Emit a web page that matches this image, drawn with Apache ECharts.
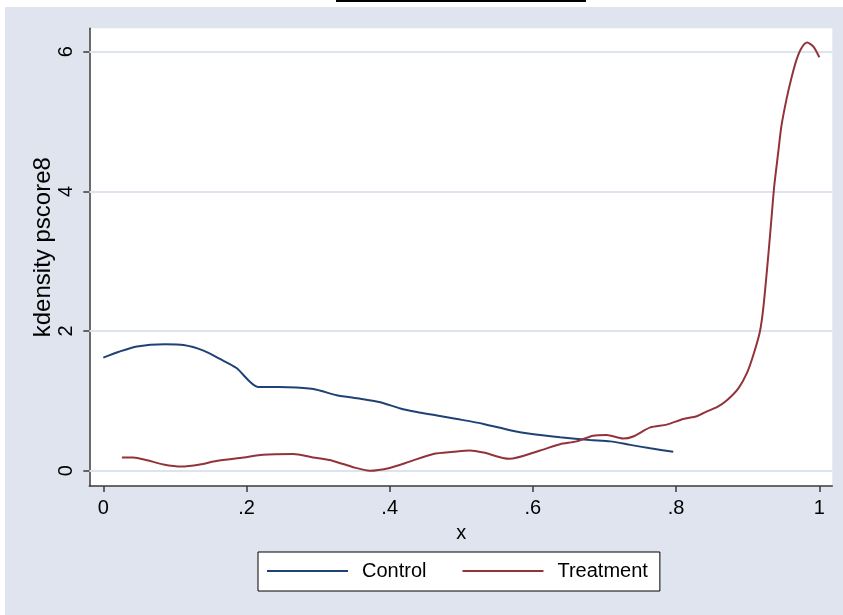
<!DOCTYPE html>
<html>
<head>
<meta charset="utf-8">
<script src="https://cdn.jsdelivr.net/npm/echarts@6/dist/echarts.min.js"></script>
<style>
  html, body { margin: 0; padding: 0; background: #ffffff; }
  #chart { width: 843px; height: 615px; }
</style>
</head>
<body>
<div id="chart"></div>
<script>
// ---- data ----
const controlX = [0, 0.021, 0.047, 0.086, 0.112, 0.140, 0.163, 0.186, 0.216, 0.245, 0.270, 0.298, 0.326, 0.359, 0.387, 0.415, 0.438, 0.466, 0.494, 0.531, 0.568, 0.596, 0.638, 0.680, 0.708, 0.736, 0.764, 0.796];
const controlY = [1.62, 1.70, 1.78, 1.81, 1.80, 1.72, 1.60, 1.47, 1.20, 1.20, 1.19, 1.16, 1.08, 1.03, 0.98, 0.89, 0.84, 0.79, 0.74, 0.67, 0.58, 0.53, 0.48, 0.44, 0.42, 0.37, 0.32, 0.27];

const treatX = [0.026, 0.042, 0.061, 0.084, 0.109, 0.135, 0.158, 0.196, 0.223, 0.265, 0.293, 0.321, 0.349, 0.372, 0.400, 0.428, 0.461, 0.489, 0.512, 0.531, 0.567, 0.610, 0.638, 0.661, 0.684, 0.703, 0.726, 0.740, 0.764, 0.787, 0.810, 0.829, 0.843, 0.857, 0.871, 0.887, 0.899, 0.908, 0.917, 0.922, 0.929, 0.933, 0.937, 0.943, 0.947, 0.954, 0.961, 0.968, 0.975, 0.983, 0.992, 1.000];
const treatY = [0.19, 0.19, 0.15, 0.09, 0.06, 0.09, 0.14, 0.19, 0.23, 0.24, 0.19, 0.14, 0.05, 0.00, 0.04, 0.13, 0.24, 0.27, 0.29, 0.26, 0.17, 0.29, 0.38, 0.42, 0.50, 0.51, 0.46, 0.49, 0.62, 0.66, 0.74, 0.78, 0.85, 0.91, 1.01, 1.18, 1.40, 1.66, 1.99, 2.35, 3.11, 3.59, 4.07, 4.59, 4.93, 5.31, 5.62, 5.88, 6.05, 6.13, 6.07, 5.92];

const seriesNames = ['Control', 'Treatment'];
const xTickLabels = ['0', '.2', '.4', '.6', '.8', '1'];
const yTickLabels = ['0', '2', '4', '6'];
const xTitle = 'x';
const yTitle = 'kdensity pscore8';

// ---- chart ----
const FONT = 'Liberation Sans, Arial, sans-serif';
const BG = '#dfe4ef';
const AXIS = '#3a3a3a';
const zip = (xs, ys) => xs.map((x, i) => [x, ys[i]]);

const chart = echarts.init(document.getElementById('chart'), null, { renderer: 'canvas' });

// pixel geometry of the plot region and data-to-pixel anchors
const plotL = 89.3, plotR = 832.3, plotT = 28.3, plotB = 486;
const x0px = 103.3, x1px = 819.3, y0px = 470.7, y6px = 51.7;
const pxPerX = (x1px - x0px), pxPerY = (y0px - y6px) / 6;
const W = 843, H = 615;

const option = {
  backgroundColor: BG,
  animation: false,
  textStyle: { fontFamily: FONT },
  graphic: [
    { type: 'rect', shape: { x: 0, y: 0, width: W, height: 7 }, style: { fill: '#ffffff' }, z: 100 },
    { type: 'rect', shape: { x: 0, y: 0, width: 5, height: H }, style: { fill: '#ffffff' }, z: 100 },
    { type: 'rect', shape: { x: 336, y: 0, width: 250, height: 2 }, style: { fill: '#000000' }, z: 101 }
  ],
  grid: [
    // 0: full plot region (frame + data)
    { left: plotL, right: W - plotR, top: plotT, bottom: H - plotB, show: true, backgroundColor: '#ffffff', borderWidth: 0, z: 0 },
    // 1: y ticks / gridlines (0..6)
    { left: plotL, right: W - plotR, top: y6px, bottom: H - y0px, show: false },
    // 2: x ticks (0..1)
    { left: x0px, right: W - x1px, top: plotT, bottom: H - plotB, show: false }
  ],
  xAxis: [
    {
      gridIndex: 0, type: 'value', position: 'bottom',
      min: (plotL - x0px) / pxPerX, max: (plotR - x0px) / pxPerX,
      axisLine: { show: true, onZero: false, lineStyle: { color: AXIS, width: 1.5 } },
      axisTick: { show: false }, axisLabel: { show: false }, splitLine: { show: false }
    },
    {
      gridIndex: 1, type: 'value', min: 0, max: 1, show: false,
      axisLine: { onZero: false }
    },
    {
      gridIndex: 2, type: 'value', min: 0, max: 1, interval: 0.2, position: 'bottom',
      axisLine: { show: false, onZero: false },
      axisTick: { show: true, inside: false, length: 6, lineStyle: { color: AXIS, width: 1.5 } },
      axisLabel: {
        show: true, margin: 12, color: '#000', fontSize: 20, fontFamily: FONT,
        formatter: (v, i) => xTickLabels[i]
      },
      splitLine: { show: false },
      name: xTitle, nameLocation: 'middle', nameGap: 37, nameMoveOverlap: false,
      nameTextStyle: { color: '#000', fontSize: 20, fontFamily: FONT }
    }
  ],
  yAxis: [
    {
      gridIndex: 0, type: 'value', position: 'left',
      min: (y0px - plotB) / pxPerY, max: (y0px - plotT) / pxPerY,
      axisLine: { show: true, onZero: false, lineStyle: { color: AXIS, width: 1.5 } },
      axisTick: { show: false }, axisLabel: { show: false }, splitLine: { show: false }
    },
    {
      gridIndex: 1, type: 'value', min: 0, max: 6, interval: 2, z: 1, position: 'left',
      axisLine: { show: false, onZero: false },
      axisTick: { show: true, inside: false, length: 6, lineStyle: { color: AXIS, width: 1.5 } },
      axisLabel: {
        show: true, rotate: 90, margin: 13, color: '#000', fontSize: 20, fontFamily: FONT,
        formatter: (v, i) => yTickLabels[i]
      },
      splitLine: { show: true, lineStyle: { color: '#dde3ef', width: 2 } },
      name: yTitle, nameLocation: 'middle', nameGap: 34, nameRotate: 90, nameMoveOverlap: false,
      nameTextStyle: { color: '#000', fontSize: 24, fontFamily: FONT, padding: [0, 0, 0, 28] }
    },
    {
      gridIndex: 2, type: 'value', min: 0, max: 1, show: false,
      axisLine: { onZero: false }
    }
  ],
  legend: {
    data: seriesNames,
    left: 258, top: 552,
    orient: 'horizontal',
    icon: 'rect', itemWidth: 81, itemHeight: 2, itemGap: 36,
    backgroundColor: '#ffffff', borderColor: '#000000', borderWidth: 1, borderRadius: 0,
    padding: [9, 12, 10, 9],
    textStyle: { color: '#000', fontSize: 20, fontFamily: FONT, padding: [0, 0, 0, 9] }
  },
  series: [
    {
      name: seriesNames[0], type: 'line', xAxisIndex: 0, yAxisIndex: 0,
      data: zip(controlX, controlY), showSymbol: false, symbol: 'none',
      smooth: 0.25, z: 3,
      lineStyle: { color: '#1f4275', width: 2 }, itemStyle: { color: '#1f4275' }
    },
    {
      name: seriesNames[1], type: 'line', xAxisIndex: 0, yAxisIndex: 0,
      data: zip(treatX, treatY), showSymbol: false, symbol: 'none',
      smooth: 0.25, z: 3,
      lineStyle: { color: '#92333c', width: 2 }, itemStyle: { color: '#92333c' }
    }
  ]
};
chart.setOption(option);
</script>
</body>
</html>
